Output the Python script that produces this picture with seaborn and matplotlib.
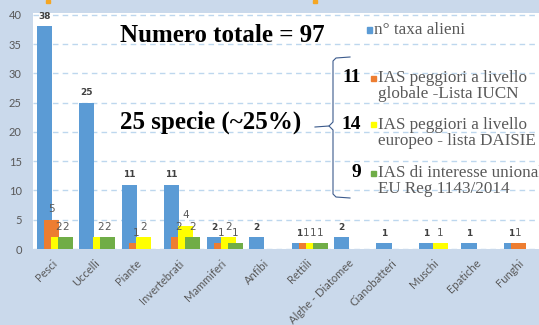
import matplotlib.pyplot as plt
import matplotlib.patches as mpatches
from matplotlib.lines import Line2D
import pandas as pd
import seaborn as sns

# DATA
categorie = ["Pesci", "Uccelli", "Piante", "Invertebrati", "Mammiferi", "Anfibi",
             "Rettili", "Alghe - Diatomee", "Cianobatteri", "Muschi", "Epatiche", "Funghi"]
taxa_alieni = [38, 25, 11, 11, 2, 2, 1, 2, 1, 1, 1, 1]
ias_iucn = [5, 0, 1, 2, 1, 0, 1, 0, 0, 0, 0, 1]
ias_daisie = [2, 2, 2, 4, 2, 0, 1, 0, 0, 1, 0, 0]
ias_unionale = [2, 2, 0, 2, 1, 0, 1, 0, 0, 0, 0, 0]
serie = ["n° taxa alieni",
         "IAS peggiori a livello\nglobale -Lista IUCN",
         "IAS peggiori a livello\neuropeo - lista DAISIE",
         "IAS di interesse unionale\nEU Reg 1143/2014"]
conteggi = ["", "11", "14", "9"]
colori = ["#5B9BD5", "#ED7D31", "#FFFF00", "#70AD47"]

valori = [taxa_alieni, ias_iucn, ias_daisie, ias_unionale]
df = pd.concat([pd.DataFrame({"categoria": categorie, "valore": v, "serie": s})
                for s, v in zip(serie, valori)], ignore_index=True)

W, H = 539, 325
def px(x, y):
    return x / W, 1 - y / H

# FIGURE
fig = plt.figure(figsize=(W / 100, H / 100), dpi=100, facecolor="#CAD9EB")
ax = fig.add_axes([33 / W, 1 - 249 / H, 1 - 33 / W, (249 - 13) / H])
ax.set_facecolor("white")

sns.barplot(data=df, x="categoria", y="valore", hue="serie", hue_order=serie,
            palette=colori, saturation=1, dodge=True, width=0.86,
            legend=False, ax=ax, linewidth=0)

# overlapping bars, like the original Excel chart
for i, cont in enumerate(ax.containers):
    for j, bar in enumerate(cont):
        bar.set_x(j - 0.428 + i * 0.165)
        bar.set_width(0.357)

for i, (cont, v) in enumerate(zip(ax.containers, valori)):
    labels = [str(n) if n else "" for n in v]
    if i == 0:
        ax.bar_label(cont, labels=labels, padding=4, fontsize=6.5,
                     fontweight="bold", color="#404040")
    else:
        ax.bar_label(cont, labels=labels, padding=4, fontsize=7.5, color="#595959")

ax.set_xlim(-0.518, 11.4)
ax.set_ylim(0, 40.3)
ax.set_yticks(range(0, 41, 5))
ax.yaxis.grid(True, color="#BDD7EE", linestyle=(0, (4, 3)), linewidth=1)
ax.set_axisbelow(True)
for s in ax.spines.values():
    s.set_visible(False)
ax.set_xlabel("")
ax.set_ylabel("")
ax.tick_params(axis="y", length=0, pad=8, labelsize=8, labelcolor="#595959")
ax.tick_params(axis="x", length=0, pad=9, labelsize=8, labelcolor="#595959")
for t in ax.get_xticklabels():
    t.set_rotation(45)
    t.set_ha("right")
    t.set_va("center")
    t.set_rotation_mode("anchor")
    t.set_fontfamily("Lato")
for t in ax.get_yticklabels():
    t.set_fontfamily("Lato")

# TITLES
serif = "Liberation Serif"
fig.text(*px(120, 36), "Numero totale = 97", family=serif, fontweight="bold",
         fontsize=18, va="center", ha="left")
fig.text(*px(120, 122), "25 specie (~25%)", family=serif, fontweight="bold",
         fontsize=18, va="center", ha="left")

# LEGEND
quad_x = [367, 371, 371, 371]
voce_y = [30, 86, 133, 181]
quad_y = [30, 78, 124, 173]
for c, s, n, qx, vy, qy in zip(colori, serie, conteggi, quad_x, voce_y, quad_y):
    fig.add_artist(mpatches.Rectangle(px(qx, qy + 2.5), 5 / W, 5 / H,
                                      color=c, transform=fig.transFigure))
    fig.text(*px(qx + 7, vy), s, family=serif, fontsize=12.3, color="#595959",
             va="center", ha="left", linespacing=1.0)
    if n:
        fig.text(*px(361, qy), n, family=serif, fontweight="bold", fontsize=14,
                 va="center", ha="right")

# BRACE
bx = [350, 336, 333, 333, 329, 333, 333, 336, 350]
by = [57, 58, 61, 122, 126, 130, 194, 197, 198]
fig.add_artist(Line2D([x / W for x in bx], [1 - y / H for y in by],
                      color="#3B5A8C", lw=0.8, transform=fig.transFigure))
fig.add_artist(Line2D([315 / W, 329 / W], [1 - 127 / H, 1 - 126 / H],
                      color="#3B5A8C", lw=0.8, transform=fig.transFigure))

# small orange marks at the top edge
for mx in [46, 313]:
    fig.add_artist(mpatches.Rectangle(px(mx, 3), 4 / W, 3 / H, color="#F5A623",
                                      transform=fig.transFigure))

fig.savefig("out.png", dpi=100, facecolor=fig.get_facecolor())
